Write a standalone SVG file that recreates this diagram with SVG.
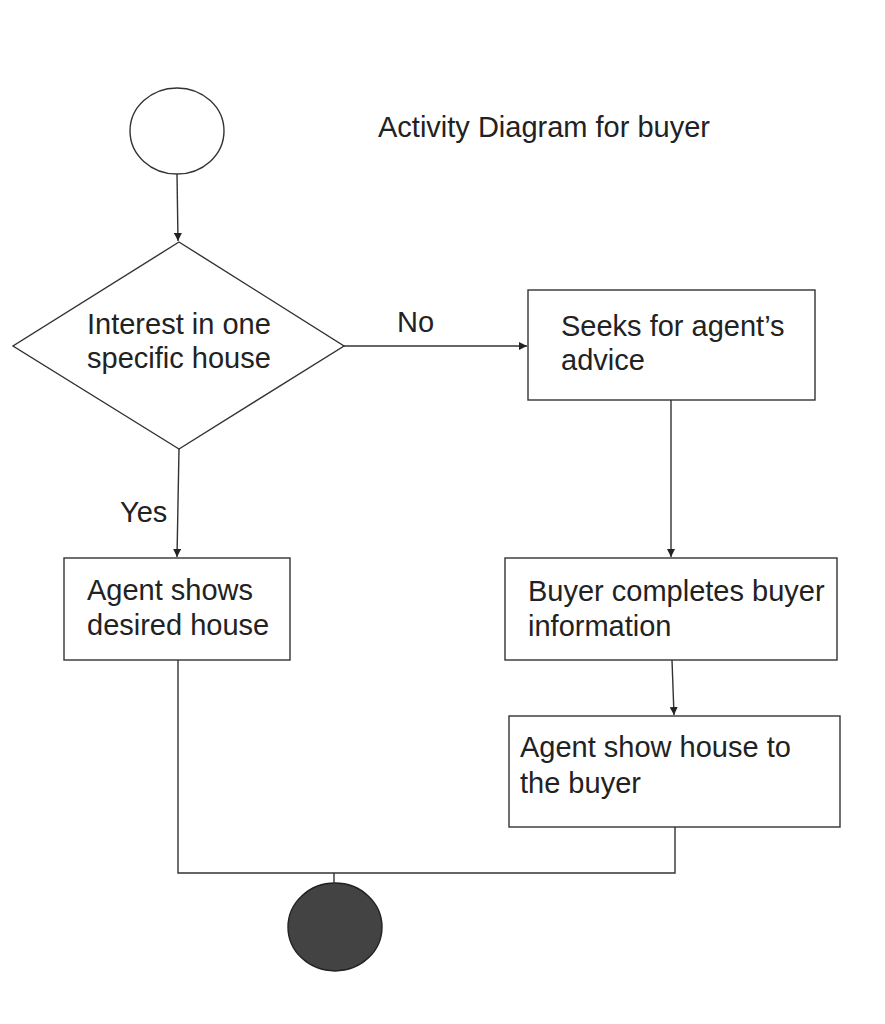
<svg xmlns="http://www.w3.org/2000/svg" width="885" height="1024" viewBox="0 0 885 1024">
<defs>
<marker id="arr" viewBox="0 0 10 10" refX="10" refY="5" markerWidth="8" markerHeight="8" markerUnits="userSpaceOnUse" orient="auto">
<path d="M0,0 L10,5 L0,10 z" fill="#222"/>
</marker>
</defs>
<style>
.s{fill:#fff;stroke:#333;stroke-width:1.4}
.t{font-family:"Liberation Sans",Arial,sans-serif;font-size:29px;fill:#222}
.c{fill:none;stroke:#333;stroke-width:1.4}
</style>
<rect width="885" height="1024" fill="#fff"/>
<text class="t" x="378" y="137">Activity Diagram for buyer</text>
<g id="start"><ellipse class="s" cx="177" cy="131" rx="47" ry="43"/></g>
<g id="decision"><polygon class="s" points="179,242 344,346 179,449 13,346"/>
<text class="t" x="87" y="334">Interest in one</text><text class="t" x="87" y="368">specific house</text></g>
<g id="seeks"><rect class="s" x="528" y="290" width="287" height="110"/>
<text class="t" x="561" y="336">Seeks for agent’s</text><text class="t" x="561" y="370">advice</text></g>
<g id="completes"><rect class="s" x="505" y="558" width="332" height="102"/>
<text class="t" x="528" y="601">Buyer completes buyer</text><text class="t" x="528" y="636">information</text></g>
<g id="showhouse"><rect class="s" x="509" y="716" width="331" height="111"/>
<text class="t" x="520" y="757">Agent show house to</text><text class="t" x="520" y="793">the buyer</text></g>
<g id="shows"><rect class="s" x="64" y="558" width="226" height="102"/>
<text class="t" x="87" y="600">Agent shows</text><text class="t" x="87" y="635">desired house</text></g>
<g id="end"><ellipse cx="335" cy="927" rx="47" ry="44" fill="#434343" stroke="#222" stroke-width="1.4"/></g>
<g id="connectors">
<line class="c" x1="177" y1="174" x2="178" y2="241" marker-end="url(#arr)"/>
<line class="c" x1="344" y1="346" x2="527" y2="346" marker-end="url(#arr)"/>
<text class="t" x="397" y="332">No</text>
<line class="c" x1="179" y1="449" x2="177" y2="557" marker-end="url(#arr)"/>
<text class="t" x="120" y="522">Yes</text>
<line class="c" x1="671" y1="400" x2="671" y2="557" marker-end="url(#arr)"/>
<line class="c" x1="672" y1="660" x2="674" y2="715" marker-end="url(#arr)"/>
<polyline class="c" points="675,827 675,873 178,873 178,660"/>
<line class="c" x1="334" y1="873" x2="334" y2="884"/>
</g>
</svg>
